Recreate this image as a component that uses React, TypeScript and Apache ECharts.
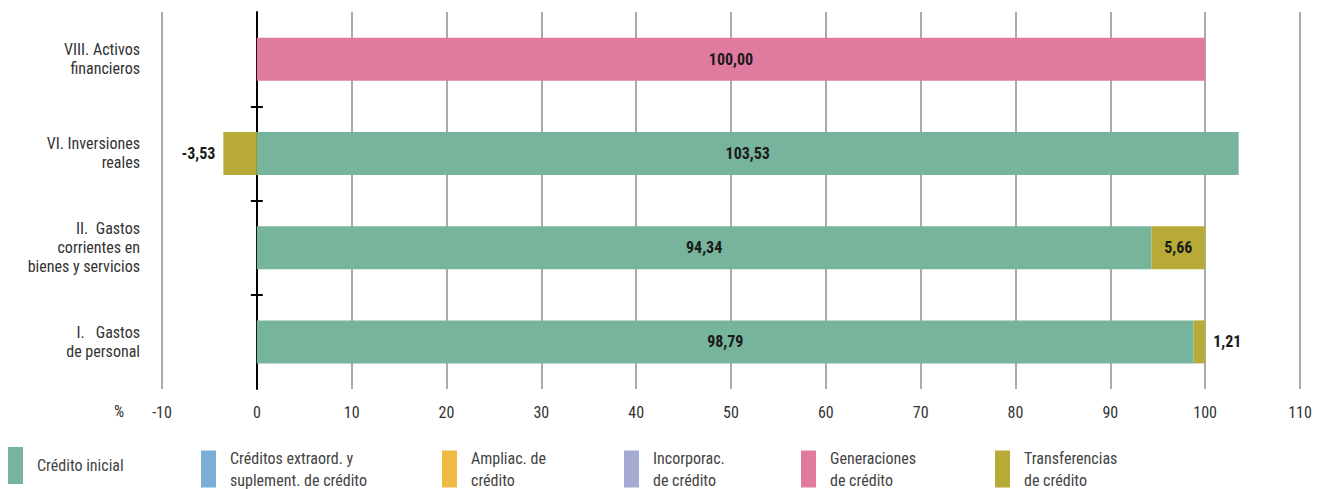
import React, { useEffect, useRef } from "react";
import * as echarts from "echarts";

const categories = [
  "I.   Gastos\nde personal",
  "II.  Gastos\ncorrientes en\nbienes y servicios",
  "VI. Inversiones\nreales",
  "VIII. Activos\nfinancieros",
];
const seriesNames = [
  "Crédito inicial",
  "Créditos extraord. y suplement. de crédito",
  "Ampliac. de crédito",
  "Incorporac. de crédito",
  "Generaciones de crédito",
  "Transferencias de crédito",
];
const legendLabels = [
  "Crédito inicial",
  "Créditos extraord. y\nsuplement. de crédito",
  "Ampliac. de\ncrédito",
  "Incorporac.\nde crédito",
  "Generaciones\nde crédito",
  "Transferencias\nde crédito",
];
const colors = ["#76b59c", "#7aaed6", "#f0b942", "#a4aad1", "#e07a9f", "#b8aa36"];
const creditoInicial = [98.79, 94.34, 103.53, null];
const extraord = [null, null, null, null];
const ampliac = [null, null, null, null];
const incorporac = [null, null, null, null];
const generaciones = [null, null, null, 100.0];
const transferencias = [1.21, 5.66, -3.53, null];
const seriesValues = [creditoInicial, extraord, ampliac, incorporac, generaciones, transferencias];
const xTicks = [-10, 0, 10, 20, 30, 40, 50, 60, 70, 80, 90, 100, 110];
const xMin = -10;
const xMax = 110;
const legendLeft = [8, 201, 442, 624, 801, 995];

const FONT = "'Roboto Condensed', 'DejaVu Sans Condensed', 'Liberation Sans Narrow', Roboto, sans-serif";
const fmt = (v: number) => v.toFixed(2).replace(".", ",");

const GRID_LEFT = 162;
const GRID_RIGHT = 26;
const WIDTH = 1326;

export default function App() {
  const ref = useRef<HTMLDivElement>(null);
  useEffect(() => {
    if (!ref.current) return;
    const chart = echarts.init(ref.current, undefined, { renderer: "svg" });
    const series = seriesValues.map((vals, si) => ({
      name: seriesNames[si],
      type: "bar",
      stack: "total",
      yAxisIndex: 0,
      barWidth: 43,
      itemStyle: { color: colors[si] },
      data: vals.map((v) => {
        if (v === null) return null;
        const small = Math.abs(v) < 4;
        return {
          value: v,
          label: {
            show: true,
            position: small ? (v < 0 ? "left" : "right") : "inside",
            distance: 8,
            formatter: () => fmt(v),
            color: "#1a1a1a",
            fontWeight: "bold",
            fontSize: 16,
            fontFamily: FONT,
          },
        };
      }),
    }));
    const plotW = WIDTH - GRID_LEFT - GRID_RIGHT;
    const zeroOffset = -((0 - xMin) / (xMax - xMin)) * plotW;
    const tickAxis = (inside: boolean) => ({
      type: "value",
      min: 0,
      max: 4,
      position: "left",
      offset: inside ? 0 : zeroOffset,
      axisLine: {
        show: inside,
        onZero: inside,
        lineStyle: { color: "#000", width: 2 },
      },
      axisTick: { show: true, inside, length: 6, customValues: [1, 2, 3], lineStyle: { color: "#000", width: 2 } },
      axisLabel: { show: false },
      splitLine: { show: false },
    });
    chart.setOption({
      animation: false,
      textStyle: { fontFamily: FONT },
      grid: { left: GRID_LEFT, right: GRID_RIGHT, top: 12, bottom: 100 },
      legend: seriesNames.map((n, i) => ({
        data: [n],
        left: legendLeft[i],
        top: 447,
        padding: 0,
        icon: "rect",
        itemWidth: 15,
        itemHeight: 37,
        selectedMode: false,
        formatter: () => legendLabels[i],
        textStyle: {
          fontFamily: FONT,
          fontSize: 16,
          lineHeight: 22,
          color: "#444",
          padding: [0, 0, 0, 9],
        },
      })),
      xAxis: {
        type: "value",
        min: xMin,
        max: xMax,
        interval: 10,
        axisLine: { show: false, onZero: false },
        axisTick: { show: false },
        axisLabel: {
          margin: 15,
          fontSize: 16,
          color: "#333",
          fontFamily: FONT,
          customValues: xTicks,
        },
        splitLine: { show: true, lineStyle: { color: "#aaa", width: 2 } },
      },
      yAxis: [
        {
          type: "category",
          data: categories,
          axisLine: { show: false, onZero: false },
          axisTick: { show: false },
          axisLabel: {
            margin: 22,
            fontSize: 16,
            lineHeight: 19,
            color: "#333",
            fontFamily: FONT,
            align: "right",
          },
        },
        tickAxis(true),
        tickAxis(false),
      ],
      graphic: [
        {
          type: "text",
          left: 114,
          top: 403,
          style: { text: "%", fontSize: 16, fill: "#333", fontFamily: FONT },
        },
      ],
      series,
    });
    return () => chart.dispose();
  }, []);
  return (
    <div
      ref={ref}
      style={{ position: "fixed", left: 0, top: 0, width: WIDTH, height: 489, background: "#fff" }}
    />
  );
}
